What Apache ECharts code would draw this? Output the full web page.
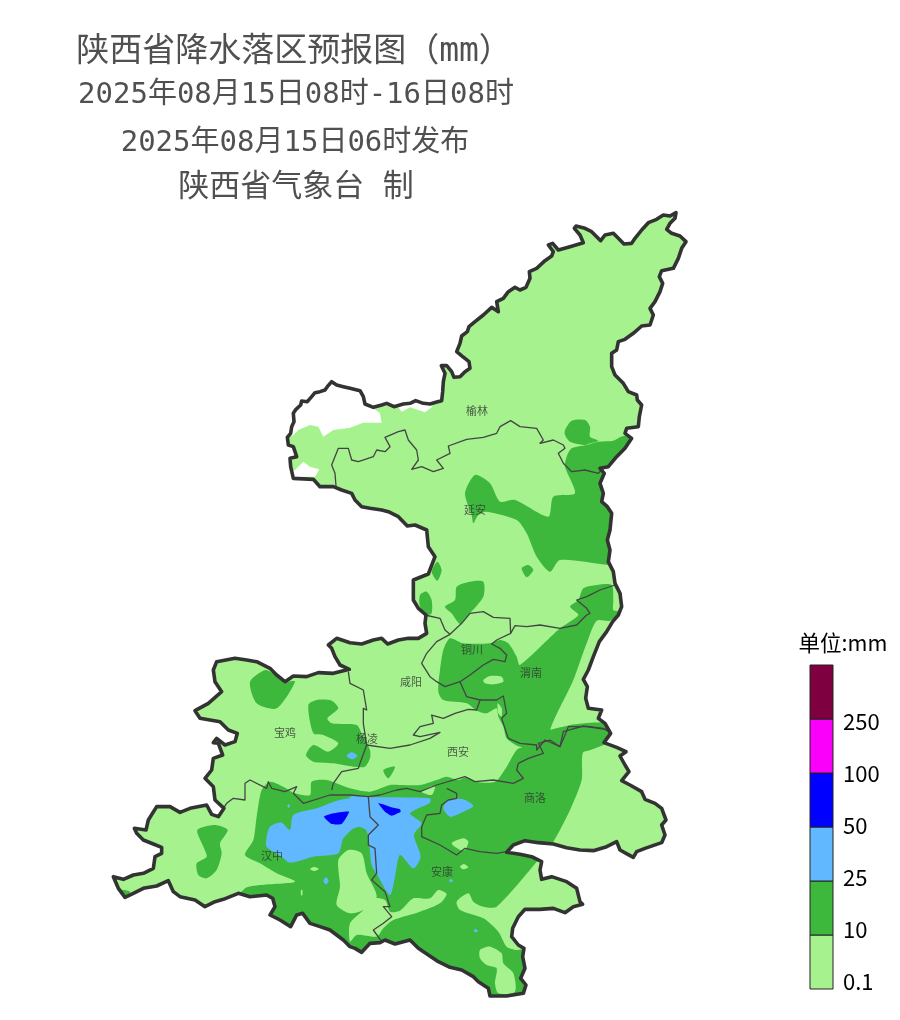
<!DOCTYPE html>
<html><head><meta charset="utf-8">
<style>html,body{margin:0;padding:0;background:#fff}#c{width:900px;height:1020px}</style>
<script src="https://cdn.jsdelivr.net/npm/echarts@6/dist/echarts.min.js"></script>
</head><body><div id="c"></div>
<script>
// Map shapes were traced from four magnified views; each helper converts its view to map units.
const view=(ox,oy)=>pts=>pts.map(p=>[ox+p[0]/3,oy+p[1]/3]);
const c1=view(270,200),c2=view(320,500),c3=view(100,640),c4=view(350,720);

const titleLines=['陕西省降水落区预报图（mm）','2025年08月15日08时-16日08时','2025年08月15日06时发布','陕西省气象台 制'];
const legendUnit='单位:mm';
const legendTicks=['0.1','10','25','50','100','250'];
const legendColors=['#A6F28F','#3DB83D','#61B8FF','#0000FF','#FA00FA','#7F0040'];
const cityNames=['榆林','延安','铜川','渭南','咸阳','宝鸡','杨凌','西安','商洛','汉中','安康'];
const cityLon=[477,475,472,531,411,285,367,458,535,272,442];
const cityLat=[411,510,650,673,682,733,739,752,798,856,872];

const provinceOutline=[
 ...c1([[52,712],[62,700],[65,680],[72,665],[70,640],[78,628],[92,615],[95,603],[112,605],[125,590],[135,578],[150,575],[165,570],[172,560],[185,545],[200,555],[220,560],[240,565],[270,572],[280,590],[285,612],[310,622],[335,615],[350,610],[372,620],[400,612],[420,610],[437,602],[460,610],[480,612],[500,606],[515,602],[518,575],[520,545],[525,520],[514,497],[530,497],[545,515],[552,532],[570,530],[585,515],[600,505],[597,485],[578,470],[560,455],[570,430],[575,408],[592,395],[597,380],[615,365],[640,345],[665,322],[685,335],[680,305],[700,295],[715,275],[735,262],[750,270],[768,262],[780,235],[778,215],[800,205],[825,182],[845,168],[850,155],[835,135],[848,130],[865,150],[900,140],[940,128],[930,105],[913,85],[918,78],[945,85],[965,95],[980,110],[992,122],[1005,105],[1030,100],[1045,115],[1062,132],[1085,130],[1095,115],[1115,90],[1135,68],[1160,58],[1180,45],[1200,48],[1218,38],[1215,55],[1200,70],[1190,88],[1205,100],[1230,108],[1248,125],[1235,145],[1225,175],[1210,205],[1175,212],[1168,230],[1178,250],[1170,275],[1155,305],[1140,325],[1150,345],[1140,375],[1115,378],[1090,400],[1065,418],[1045,425],[1040,450],[1025,460],[1025,500],[1035,525],[1060,550],[1075,575],[1100,585],[1102,600],[1115,615],[1108,650],[1105,680],[1070,685],[1065,700],[1085,715],[1065,745],[1040,770],[1015,800],[990,805],[1003,820],[990,850],[1000,880],[995,905],[1012,920],[1025,940],[1020,990]]),
 ...c2([[862,120],[870,150],[865,185],[880,215],[885,250],[900,280],[905,320],[895,345],[878,365],[860,395],[838,425],[820,470],[805,510],[790,538],[802,560],[797,595],[805,625],[845,630],[835,655],[855,670],[872,700]]),
 ...c4([[762,68],[800,82],[828,95],[810,108],[825,135],[837,155],[815,182],[840,195],[875,215],[885,238],[915,250],[935,265],[948,300],[935,315],[945,345],[935,368],[885,385],[860,395],[850,412],[828,400],[810,390],[800,365],[770,380],[730,392],[690,390],[650,383],[610,372],[565,368],[525,362],[490,375],[470,397],[510,403],[545,410],[575,425],[570,450],[575,478],[605,470],[650,485],[680,505],[690,545],[698,553],[670,560],[645,578],[610,565],[570,568],[525,568],[505,590],[488,625],[485,650],[505,675],[522,685],[518,710],[525,745],[512,775],[528,795],[520,820],[470,828],[420,828],[415,805],[385,785],[370,770],[335,750],[300,742],[265,725],[235,705],[205,685],[180,660],[135,672],[105,660],[90,668],[60,670],[35,697],[15,685],[0,680]]),
 ...c3([[730,900],[690,870],[660,860],[630,850],[608,820],[590,825],[572,860],[540,840],[510,825],[525,800],[518,775],[500,765],[450,770],[415,760],[370,778],[345,785],[315,800],[285,780],[240,770],[220,755],[205,722],[170,738],[130,745],[100,760],[75,772],[55,745],[40,710],[70,718],[100,705],[130,700],[160,685],[165,650],[185,640],[185,622],[160,612],[130,600],[110,580],[103,565],[138,570],[145,540],[170,500],[210,500],[240,517],[270,505],[320,495],[335,523],[355,530],[372,505],[345,480],[340,440],[315,415],[335,390],[340,355],[368,345],[355,310],[340,308],[350,295],[375,315],[405,305],[412,280],[385,270],[360,245],[300,235],[285,212],[325,190],[365,155],[345,125],[340,90],[350,65],[405,55],[440,60],[470,65],[510,85],[530,105],[555,125],[580,108],[620,110],[655,98],[700,100],[748,88]]),
 ...c2([[60,495],[45,470],[35,445],[25,435],[50,415],[90,428],[125,432],[160,420],[185,415],[203,432],[235,420],[265,415],[295,415],[320,400],[315,370],[318,345],[295,325],[280,300],[280,240],[325,222],[345,170],[325,140],[320,90],[285,75],[262,78],[235,50],[205,35],[185,30],[150,25],[125,20],[105,0]]),
 ...c1([[245,880],[215,870],[190,860],[150,860],[130,838],[70,835],[62,800],[60,775],[80,770],[70,740],[55,735]])
];
const cityBorders=[
 c1([[198,858],[195,820],[185,795],[205,745],[235,745],[245,780],[265,785],[310,770],[320,750],[345,755],[360,740],[345,712],[385,695],[405,690],[415,720],[440,750],[445,780],[425,808],[455,800],[490,815],[520,805],[500,780],[540,760],[535,738],[590,718],[640,712],[680,700],[690,680],[722,662],[750,680],[800,685],[820,720],[810,730],[850,720],[880,735],[885,745],[865,760],[880,790],[905,815],[945,810],[985,820],[1000,805]]),
 c2([[885,255],[840,270],[800,290],[770,300],[800,325],[810,340],[800,345],[770,375],[720,385],[660,375],[620,380],[585,377],[572,400],[570,355],[520,352],[490,335],[450,340],[425,370],[390,403],[375,390],[360,355],[315,345]]),
 c2([[572,400],[530,420],[515,432],[540,445],[560,465],[555,485],[520,478],[490,495],[450,525],[420,545],[440,590],[480,600],[470,630],[445,628],[405,640],[370,655],[335,645],[340,670],[300,680],[280,705],[300,710],[360,697],[330,715],[270,735],[210,745],[140,735]]),
 c2([[390,403],[350,425],[320,460],[305,490],[330,530],[350,545],[375,560],[420,545]]),
 c2([[480,600],[530,600],[550,588],[560,640],[545,655],[565,715],[600,730],[650,735],[650,750],[675,720],[720,740],[735,705],[745,680],[800,680],[870,690]]),
 c2([[85,515],[90,550],[130,570],[140,630],[130,625],[130,670],[140,735],[120,790],[115,805],[65,815],[40,850],[35,870]]),
 [...c3([[370,505],[380,490],[400,475],[435,480],[435,430],[450,420],[500,445],[505,425],[515,445],[555,455],[590,440],[580,460],[610,490],[690,465]]),...c4([[0,225],[55,230],[90,225],[140,210],[170,205],[210,215],[260,195],[345,170],[375,185],[430,180],[490,190],[520,175],[500,150],[505,130],[535,115],[580,100],[565,70],[600,60],[630,80],[640,35],[700,18],[760,25],[785,40]])],
 c4([[290,205],[320,220],[320,235],[295,240],[275,255],[270,280],[230,285],[215,320],[215,350],[270,375],[320,405],[345,385],[390,395],[440,400],[470,395]]),
 c4([[55,230],[60,290],[85,315],[55,345],[55,375],[75,385],[80,460],[65,480],[105,515],[120,560],[100,560],[125,590],[100,610],[70,630],[95,665]])
];
const dryAreas=[
 c1([[40,720],[70,705],[85,690],[120,675],[145,680],[160,710],[190,690],[240,683],[280,668],[335,668],[330,640],[310,625],[340,618],[380,615],[395,635],[420,622],[465,637],[487,620],[487,590],[400,590],[300,500],[100,500],[40,600]]),
 c1([[75,810],[100,785],[120,800],[148,808],[135,830],[100,830],[80,840],[55,820]])
];
const rain10=[
 c1([[615,825],[660,850],[690,905],[735,900],[835,950],[850,890],[915,880],[885,800],[890,770],[905,745],[950,735],[985,725],[1030,722],[1060,708],[1100,720],[1060,790],[1030,840],[1040,1000],[1040,1095],[1015,1095],[870,1080],[840,1115],[800,1070],[770,1000],[740,960],[650,935],[625,945],[610,970],[605,945],[585,880]]),
 c1([[885,690],[905,662],[945,660],[960,680],[960,710],[985,722],[960,730],[945,735],[900,725],[885,705]]),
 c2([[605,205],[625,195],[640,210],[620,232]]),
 c2([[335,215],[352,185],[365,210],[352,242]]),
 c2([[375,320],[405,300],[410,260],[450,245],[490,245],[490,290],[445,345],[420,372],[395,340]]),
 c2([[300,285],[320,275],[335,300],[335,340],[320,345],[300,320]]),
 c2([[390,415],[430,430],[510,430],[540,420],[565,430],[590,470],[600,495],[720,385],[775,345],[750,320],[775,300],[790,265],[830,255],[875,255],[880,300],[880,330],[900,335],[870,362],[830,362],[800,430],[760,540],[690,695],[750,675],[860,670],[880,710],[860,730],[790,755],[600,740],[560,715],[550,680],[535,650],[530,625],[500,640],[470,632],[440,610],[370,600],[355,575],[360,510],[370,450]]),
 [...c3([[435,745],[480,735],[585,725],[530,700],[480,670],[435,645],[460,600],[470,530],[485,450],[510,425],[550,440],[585,460],[630,465],[635,425],[680,420],[750,445],[810,455],[870,435],[900,435]]),...c4([[210,195],[260,180],[290,170],[325,180],[350,172],[375,185],[435,185],[470,140],[500,90],[530,75],[560,45],[640,20],[760,20],[760,55],[700,95],[695,180],[660,270],[610,365],[565,420],[440,560],[400,560],[370,545],[355,520],[320,545],[330,570],[400,595],[445,635],[470,680],[500,690],[530,690],[540,900],[300,900],[0,800]]),...c3([[500,900],[400,800]])],
 c3([[450,125],[495,90],[520,100],[555,125],[585,125],[530,205],[470,190]]),
 c3([[625,195],[650,180],[695,182],[715,205],[682,235],[695,250],[770,255],[785,280],[810,330],[810,355],[795,380],[760,380],[700,370],[640,365],[618,345],[640,315],[685,335],[715,310],[670,285],[640,280]]),
 c3([[292,570],[345,555],[383,570],[360,610],[365,640],[350,690],[320,715],[295,705],[290,670],[320,650],[310,620]]),
 c3([[60,750],[90,755],[75,775]]),
 c3([[850,390],[885,380],[865,415]])
];
const rain01Patches=[
 c4([[215,215],[240,200],[255,200],[245,225]]),
 c4([[305,370],[340,355],[355,365],[345,390],[330,390]]),
 c4([[330,440],[342,432],[355,442],[340,448]]),
 c4([[0,610],[40,570],[60,535],[105,540],[120,575],[150,572],[190,535],[240,535],[265,510],[290,522],[270,550],[210,575],[130,600],[100,625],[80,650],[20,645],[0,665]]),
 c3([[715,660],[745,630],[785,640],[800,700],[830,770],[790,810],[750,820],[710,795],[720,740]]),
 c4([[390,690],[420,680],[455,700],[460,730],[490,760],[495,815],[445,820],[435,790],[440,745],[410,735],[390,715]]),
 c2([[490,540],[510,528],[545,530],[550,545],[520,553],[495,550]]),
 c2([[533,610],[545,625],[545,650],[535,640]]),
 c3([[630,687],[642,681],[657,687],[642,693]]),
 c3([[603,750],[607,750],[607,766],[603,766]])
];
const rain25=[
 c3([[500,590],[510,560],[545,548],[570,570],[580,525],[650,505],[720,480],[812,475],[812,570],[770,560],[730,595],[715,640],[640,650],[570,668],[545,650],[500,620]]),
 c4([[58,232],[240,235],[240,248],[180,280],[215,310],[192,345],[212,410],[190,445],[150,405],[135,470],[120,525],[85,470],[65,435],[55,350],[40,318],[0,325],[0,232]]),
 c4([[280,265],[295,240],[340,238],[370,258],[340,275],[300,290]]),
 c3([[740,347],[755,337],[772,347],[757,358]]),
 c3([[670,722],[678,712],[686,722],[678,733]]),
 c3([[562,498],[566,493],[570,498],[566,504]]),
 c4([[297,482],[303,477],[309,482],[303,487]]),
 c4([[371,632],[377,627],[384,632],[377,637]])
];
const rain50=[
 c3([[672,530],[700,520],[747,515],[725,552],[695,552]]),
 c4([[85,250],[105,255],[125,262],[150,268],[152,275],[125,287],[105,275]])
];

const polyItem=(shapes,color,smooth)=>(params,api)=>({type:'polygon',
  shape:{points:shapes[params.dataIndex].map(p=>api.coord(p)),smooth},
  style:{fill:color},
  clipPath:{type:'polygon',shape:{points:provinceOutline.map(p=>api.coord(p))}}});
const areaSeries=(shapes,color,z,smooth)=>({type:'custom',coordinateSystem:'cartesian2d',clip:false,silent:true,z,
  renderItem:polyItem(shapes,color,smooth||0),data:shapes.map((s,i)=>[i])});
const lineSeries=(lines,color,width,z,closed)=>({type:'custom',coordinateSystem:'cartesian2d',clip:false,silent:true,z,
  renderItem:(params,api)=>({type:closed?'polygon':'polyline',shape:{points:lines[params.dataIndex].map(p=>api.coord(p))},
    style:{fill:'none',stroke:color,lineWidth:width,lineJoin:'round'}}),data:lines.map((s,i)=>[i])});

const titleFont='"DejaVu Sans Mono","Noto Sans CJK SC"';
const titleY=[52,95,143,188],titleX=[294,296,295,296],titleSize=[33,29,29,31];
const legendX=[810,833],legendTop=665,legendStep=54;
const legendLabelY=[982,930,878,826,774,722];

const chart=echarts.init(document.getElementById('c'),null,{renderer:'canvas',width:900,height:1020});
chart.setOption({
  animation:false,backgroundColor:'#fff',
  grid:{left:0,right:0,top:0,bottom:0},
  xAxis:{type:'value',min:0,max:900,show:false},
  yAxis:{type:'value',min:0,max:1020,inverse:true,show:false},
  series:[
    areaSeries([provinceOutline],legendColors[0],1,0),
    areaSeries(dryAreas,'#fff',2,0),
    areaSeries(rain10,legendColors[1],3,0.25),
    areaSeries(rain01Patches,legendColors[0],4,0.25),
    areaSeries(rain25,legendColors[2],5,0.25),
    areaSeries(rain50,legendColors[3],6,0.15),
    lineSeries(cityBorders,'#444',1.3,7,false),
    lineSeries([provinceOutline],'#333',3.6,8,true),
    {type:'scatter',silent:true,z:9,symbolSize:0,
     data:cityNames.map((n,i)=>({name:n,value:[cityLon[i],cityLat[i]]})),
     label:{show:true,position:'inside',formatter:'{b}',fontFamily:'Noto Sans CJK SC',fontSize:11,color:'#333'}},
    {type:'custom',coordinateSystem:'cartesian2d',clip:false,silent:true,z:10,
     data:legendColors.map((c,i)=>[i]),
     renderItem:(params,api)=>{
       const i=params.dataIndex,a=api.coord([legendX[0],legendTop+(5-i)*legendStep]),b=api.coord([legendX[1],legendTop+(6-i)*legendStep]),t=api.coord([843,legendLabelY[i]]);
       return {type:'group',children:[
         {type:'rect',shape:{x:a[0],y:a[1],width:b[0]-a[0],height:b[1]-a[1]},style:{fill:legendColors[i],stroke:'#222',lineWidth:1}},
         {type:'text',x:t[0],y:t[1],style:{text:legendTicks[i],fill:'#000',fontSize:22,fontFamily:'Noto Sans CJK SC',textVerticalAlign:'middle'}}
       ]};
     }},
    {type:'custom',coordinateSystem:'cartesian2d',clip:false,silent:true,z:10,
     data:titleLines.map((t,i)=>[i]),
     renderItem:(params,api)=>{
       const i=params.dataIndex,p=api.coord([titleX[i],titleY[i]]);
       return {type:'text',x:p[0],y:p[1],style:{text:titleLines[i],fill:'#505050',fontSize:titleSize[i],fontFamily:titleFont,textAlign:'center',textVerticalAlign:'middle'}};
     }},
    {type:'custom',coordinateSystem:'cartesian2d',clip:false,silent:true,z:10,data:[[0]],
     renderItem:(params,api)=>{const p=api.coord([843,643]);
       return {type:'text',x:p[0],y:p[1],style:{text:legendUnit,fill:'#000',fontSize:21.5,fontFamily:'Noto Sans CJK SC',textAlign:'center',textVerticalAlign:'middle'}};}}
  ]
});
</script></body></html>
